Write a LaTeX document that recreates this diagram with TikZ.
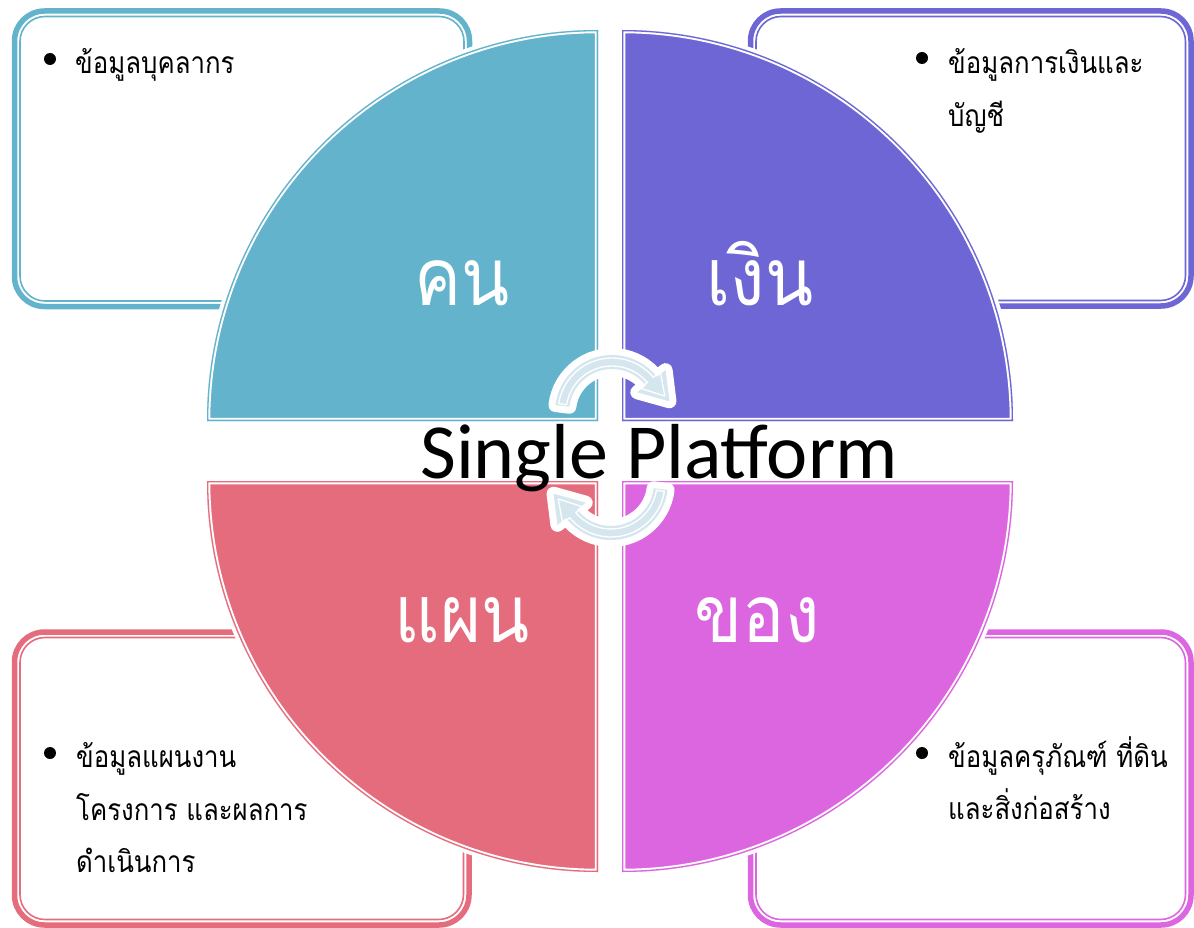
\documentclass[tikz,border=0pt]{standalone}
\usepackage{fontspec}
\setmainfont{Carlito}
\newfontfamily\thaiitem[Script=Thai,FakeStretch=0.86]{Loma}
\newfontfamily\thaibig[Script=Thai,FakeStretch=0.88]{Loma}
\usetikzlibrary{calc}
\definecolor{cteal}{HTML}{62B3CB}
\definecolor{cpurple}{HTML}{6E66D4}
\definecolor{cred}{HTML}{E56C7C}
\definecolor{cmag}{HTML}{DC66E0}
\definecolor{carrow}{HTML}{D5E6EE}
\newcommand\mysector[2]{%
  \draw[white, line width=8pt] #2;
  \fill[#1] #2;
  \begin{scope}
    \clip #2;
    \draw[white, line width=6.5pt] #2;
    \draw[#1, line width=2.6pt] #2;
  \end{scope}}
\begin{document}
\begin{tikzpicture}[x=1pt,y=1pt,
  boxouter/.style={line width=5.5pt, rounded corners=30pt},
  boxinner/.style={line width=1.6pt, rounded corners=25pt},
  itemtext/.style={font=\thaiitem\fontsize{30}{36}\selectfont, anchor=base west, inner sep=0pt},
  bigtext/.style={font=\thaibig\fontsize{80}{80}\selectfont, text=white, anchor=base, inner sep=0pt},
  bul/.style={circle, fill=black, minimum size=12pt, inner sep=0pt},
  arrowline/.style={white, line width=14pt, line join=round},
  arrowstripe/.style={white, line width=1.3pt, line join=round}]
\useasboundingbox (0,0) rectangle (1194,-928);
% corner boxes
\draw[cteal, boxouter] (14.5,-11) rectangle (469.5,-306.5);
\draw[cteal, boxinner] (20,-16.5) rectangle (464,-301);
\draw[cpurple, boxouter] (750.5,-11) rectangle (1191,-306);
\draw[cpurple, boxinner] (756,-16.5) rectangle (1185.5,-300.5);
\draw[cred, boxouter] (14.5,-632) rectangle (469,-925);
\draw[cred, boxinner] (20,-637.5) rectangle (463.5,-919.5);
\draw[cmag, boxouter] (750.5,-632) rectangle (1191,-925);
\draw[cmag, boxinner] (756,-637.5) rectangle (1185.5,-919.5);
% sectors
\def\pTL{(598,-421) -- (207,-421) arc[start angle=180,end angle=90,radius=391pt] -- cycle}
\def\pTR{(622,-421) -- (622,-30) arc[start angle=90,end angle=0,radius=391pt] -- cycle}
\def\pBL{(598,-481) -- (207,-481) arc[start angle=180,end angle=270,radius=391pt] -- cycle}
\def\pBR{(622,-481) -- (1013,-481) arc[start angle=0,end angle=-90,radius=391pt] -- cycle}
\mysector{cteal}{\pTL}
\mysector{cpurple}{\pTR}
\mysector{cred}{\pBL}
\mysector{cmag}{\pBR}
% big labels
\node[bigtext] (kon) at (462,-305) {คน};
\node[bigtext] (ngoen) at (760,-305) {เงิน};
\node[bigtext] (phaen) at (462,-642) {แผน};
\node[bigtext] (khong) at (757,-642) {ของ};
% circular arrows
\coordinate (c1) at (612,-412);
\coordinate (c2) at (611,-483);
\def\arrA{($(c1)+(173:57pt)$) arc[start angle=173,end angle=38,radius=57pt] -- ($(c1)+(38:68pt)$) -- ($(c1)+(38:50pt)+(-48:27pt)$) -- ($(c1)+(38:32pt)$) -- ($(c1)+(38:43pt)$) arc[start angle=38,end angle=173,radius=43pt] -- cycle}
\def\arrAi{($(c1)+(171:54pt)$) arc[start angle=171,end angle=40,radius=54pt] -- ($(c1)+(40:63pt)$) -- ($(c1)+(38:50pt)+(-48:20pt)$) -- ($(c1)+(40:37pt)$) -- ($(c1)+(40:46pt)$) arc[start angle=40,end angle=171,radius=46pt] -- cycle}
\def\arrB{($(c2)+(353:57pt)$) arc[start angle=353,end angle=218,radius=57pt] -- ($(c2)+(218:68pt)$) -- ($(c2)+(218:50pt)+(132:27pt)$) -- ($(c2)+(218:32pt)$) -- ($(c2)+(218:43pt)$) arc[start angle=218,end angle=353,radius=43pt] -- cycle}
\def\arrBi{($(c2)+(351:54pt)$) arc[start angle=351,end angle=220,radius=54pt] -- ($(c2)+(220:63pt)$) -- ($(c2)+(218:50pt)+(132:20pt)$) -- ($(c2)+(220:37pt)$) -- ($(c2)+(220:46pt)$) arc[start angle=220,end angle=351,radius=46pt] -- cycle}
\draw[arrowline] \arrA;
\fill[carrow] \arrA;
\draw[arrowstripe] \arrAi;
\draw[arrowline] \arrB;
\fill[carrow] \arrB;
\draw[arrowstripe] \arrBi;
% title
\node[font=\fontsize{78}{78}\selectfont, anchor=base, inner sep=0pt] (title) at (659,-478) {Single Platform};
% items
\node[bul] (b1) at (50,-59) {};
\node[itemtext] (t1) at (75,-74) {ข้อมูลบุคลากร};
\node[bul] (b2) at (922,-58) {};
\node[itemtext] (t2a) at (948,-74) {ข้อมูลการเงินและ};
\node[itemtext] (t2b) at (948,-127) {บัญชี};
\node[bul] (b3) at (50,-753) {};
\node[itemtext] (t3a) at (76,-767) {ข้อมูลแผนงาน};
\node[itemtext] (t3b) at (76,-820) {โครงการ และผลการ};
\node[itemtext] (t3c) at (76,-872) {ดำเนินการ};
\node[bul] (b4) at (922,-753) {};
\node[itemtext] (t4a) at (948,-767) {ข้อมูลครุภัณฑ์ ที่ดิน};
\node[itemtext] (t4b) at (948,-819) {และสิ่งก่อสร้าง};
\end{tikzpicture}
\end{document}
